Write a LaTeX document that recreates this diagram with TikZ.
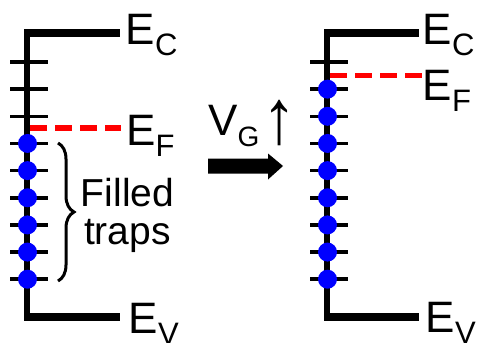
\documentclass[tikz,border=0pt]{standalone}
\usepackage{fontspec}
\setmainfont{Liberation Sans}
\usetikzlibrary{decorations.pathreplacing}
\newcommand{\lowsub}[2][31pt]{\raisebox{-11pt}{\fontsize{#1}{#1}\selectfont #2}}
\begin{document}
\begin{tikzpicture}[x=1pt,y=-1pt,
  band/.style={line width=8pt},
  wall/.style={line width=6pt},
  trapline/.style={line width=3.5pt},
  fermi/.style={red, line width=5.5pt, dash pattern=on 17pt off 8pt},
  electron/.style={circle, fill=blue, inner sep=0pt, minimum size=19pt},
  lbl/.style={anchor=base west, inner sep=0pt, font=\fontsize{44pt}{44pt}\selectfont}]
\useasboundingbox (0,0) rectangle (478,342);

% ---------- left diagram ----------
\foreach \k in {0,...,8}{
  \pgfmathsetmacro{\yy}{62+27.15*\k}
  \draw[trapline] (10,\yy) -- (48,\yy);
}
\draw[wall] (27,33.5) -- (27,317);
\draw[band] (24,33.5) -- (120,33.5);
\draw[band] (24,317) -- (120,317);
\coordinate (fL1) at (30,128);
\coordinate (fL2) at (121,128);
\draw[fermi] (fL1) -- (fL2);
\foreach \k in {3,...,8}{
  \pgfmathsetmacro{\yy}{62+27.15*\k}
  \node[electron] (eL\k) at (27.5,\yy) {};
}
\node[lbl] (ecL) at (125.5,45) {E\lowsub{C}};
\node[lbl] (efL) at (126,145.5) {E\lowsub{F}};
\node[lbl] (evL) at (128.5,333) {E\lowsub{V}};
\coordinate (brTop) at (58,143);
\coordinate (brBot) at (58,281);
\draw[line width=3pt, decorate, decoration={brace, amplitude=16pt}] (brTop) -- (brBot);
\node[align=center, inner sep=0pt, font=\fontsize{39pt}{38pt}\selectfont] (traps) at (127.5,215) {Filled\\traps};

% ---------- arrow ----------
\node[lbl] (vg) at (208,135) {V\lowsub[28pt]{G}\hspace{3pt}\raisebox{-9pt}{\scalebox{1.55}[1.75]{↑}}};
\coordinate (aS) at (208,166);
\fill (aS) ++(0,-7.5) -- ++(60,0) -- ++(0,-5) -- (283,166) -- (268,179.5) -- ++(0,-6) -- ++(-60,0) -- cycle;

% ---------- right diagram ----------
\foreach \k in {0,...,8}{
  \pgfmathsetmacro{\yy}{62+27.15*\k}
  \draw[trapline] (310,\yy) -- (348,\yy);
}
\draw[wall] (327,33.5) -- (327,317);
\draw[band] (324,33.5) -- (419,33.5);
\draw[band] (324,317) -- (419,317);
\coordinate (fR1) at (330,75.5);
\coordinate (fR2) at (422,75.5);
\draw[fermi] (fR1) -- (fR2);
\foreach \k in {1,...,8}{
  \pgfmathsetmacro{\yy}{62+27.15*\k}
  \node[electron] (eR\k) at (327.5,\yy) {};
}
\node[lbl] (ecR) at (422.5,45) {E\lowsub{C}};
\node[lbl] (efR) at (422.5,100) {E\lowsub{F}};
\node[lbl] (evR) at (425.5,332) {E\lowsub{V}};
\end{tikzpicture}
\end{document}
